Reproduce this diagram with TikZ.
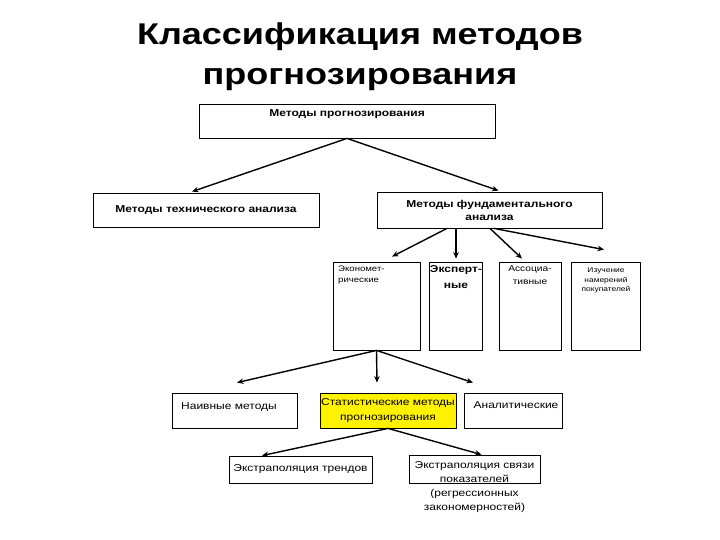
\documentclass[tikz,border=0pt]{standalone}
\usepackage{fontspec}
\setmainfont{Liberation Sans}[FakeStretch=1.2]
\usetikzlibrary{arrows.meta}

\begin{document}
\begin{tikzpicture}[x=1pt,y=-1pt,
  box/.style={draw, line width=0.8pt, inner sep=0pt, align=center},
  arr/.style={-{Stealth[length=6.5pt,width=5.5pt]}, line width=1.4pt},
  txt/.style={inner sep=0pt, align=center, font=\fontsize{10}{15}\selectfont}]
\useasboundingbox (0,0) rectangle (720,540);
\node [font=\fontsize{30}{40}\selectfont\bfseries, align=center] (title) at (360,57) {Классификация методов\\прогнозирования};
\node [box, minimum width=296, minimum height=34] (root) at (347,121) {};
\node [txt, font=\fontsize{10}{13}\selectfont\bfseries] (rootT) at (347,114) {Методы прогнозирования};
\node [box, minimum width=226, minimum height=34, font=\fontsize{10}{13}\selectfont\bfseries] (tech) at (206,210) {Методы технического анализа};
\node [box, minimum width=225, minimum height=36, font=\fontsize{10}{13}\selectfont\bfseries] (fund) at (489.5,210) {Методы фундаментального\\анализа};
\node [box, minimum width=87, minimum height=88] (eco) at (376.5,306) {};
\node [box, minimum width=53, minimum height=88] (expert) at (455.5,306) {};
\node [box, minimum width=62, minimum height=88] (assoc) at (530,306) {};
\node [box, minimum width=69, minimum height=88] (buyer) at (605.5,306) {};
\node [txt, anchor=north west, align=left, font=\fontsize{8}{11}\selectfont] (ecoT) at (338,266) {Экономет-\\рические};
\node [txt, font=\fontsize{10}{16}\selectfont\bfseries] (expertT) at (456,277) {Эксперт-\\ные};
\node [txt, font=\fontsize{8.5}{13}\selectfont] (assocT) at (530,275.5) {Ассоциа-\\тивные};
\node [txt, font=\fontsize{7}{9.5}\selectfont] (buyerT) at (606,280.5) {Изучение\\намерений\\покупателей};
\node [box, minimum width=125, minimum height=35] (naive) at (234.5,410.5) {};
\node [box, minimum width=136, minimum height=35, fill=yellow, font=\fontsize{10}{15}\selectfont] (stat) at (388,410.5) {Статистические методы\\прогнозирования};
\node [box, minimum width=98, minimum height=35] (anal) at (513,410.5) {};
\node [txt, anchor=west] (naiveT) at (181,407) {Наивные методы};
\node [txt] (analT) at (516,405) {Аналитические};
\node [box, minimum width=143, minimum height=27, font=\fontsize{10}{15}\selectfont] (trend) at (300.5,469.5) {Экстраполяция трендов};
\node [box, minimum width=131, minimum height=28] (link) at (474.5,469) {};
\node [txt, font=\fontsize{10}{14.3}\selectfont] (linkT) at (474.5,487) {Экстраполяция связи\\показателей\\(регрессионных\\закономерностей)};
\draw [arr] (root.south) -- ([xshift=-14pt,yshift=1pt]tech.north);
\draw [arr] (root.south) -- ([xshift=9pt,yshift=1pt]fund.north);
\draw [arr] ([xshift=-42.5pt]fund.south) -- ([xshift=15.5pt,yshift=5pt]eco.north);
\draw [arr] ([xshift=-33.5pt]fund.south) -- ([xshift=0.5pt,yshift=3pt]expert.north);
\draw [arr] ([xshift=0.5pt]fund.south) -- ([xshift=-8pt,yshift=3pt]assoc.north);
\draw [arr] ([xshift=4.5pt]fund.south) -- ([xshift=-1.5pt,yshift=12pt]buyer.north);
\draw [arr] (eco.south) -- ([xshift=2.5pt,yshift=10pt]naive.north);
\draw [arr] (eco.south) -- ([xshift=-11pt,yshift=10pt]stat.north);
\draw [arr] (eco.south) -- ([xshift=-40pt,yshift=10pt]anal.north);
\draw [arr] (stat.south) -- ([xshift=-38.5pt]trend.north);
\draw [arr] (stat.south) -- ([xshift=7pt]link.north);
\end{tikzpicture}
\end{document}
